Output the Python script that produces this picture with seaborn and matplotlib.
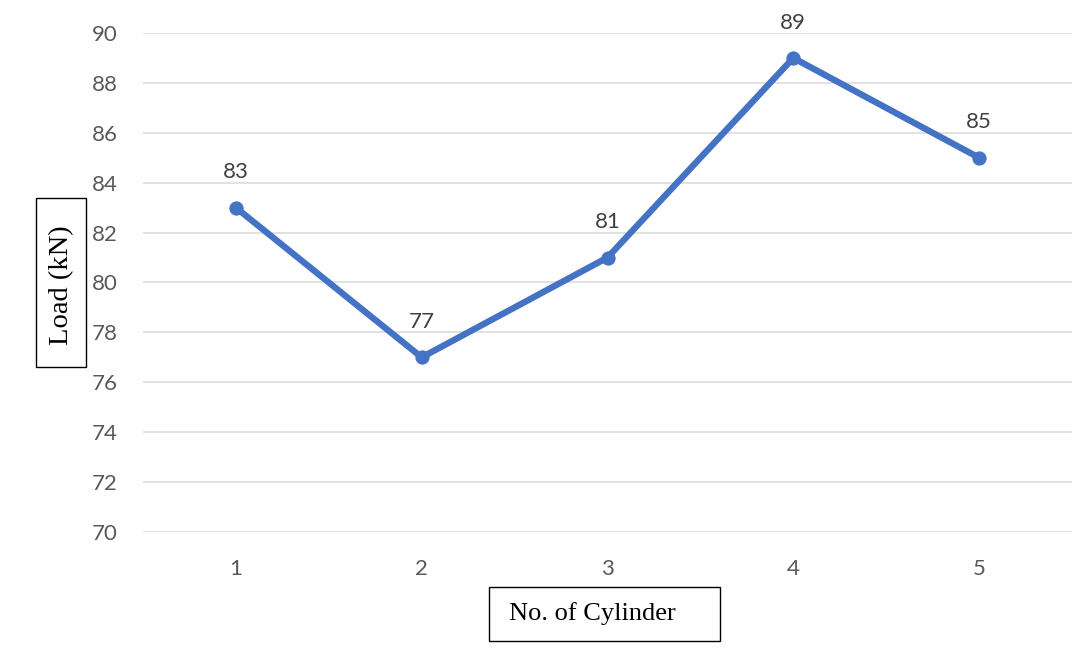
import matplotlib
matplotlib.use("Agg")
import matplotlib.pyplot as plt
from matplotlib.patches import Rectangle
import seaborn as sns
import pandas as pd

# Data
cylinders = [1, 2, 3, 4, 5]
loads = [83, 77, 81, 89, 85]
y_ticks = [70, 72, 74, 76, 78, 80, 82, 84, 86, 88, 90]

sns.set_theme(style="white")
plt.rcParams["font.family"] = ["Lato", "DejaVu Sans"]

W, H = 1087, 661
fig = plt.figure(figsize=(W / 100, H / 100), dpi=100)
ax = fig.add_axes([143 / W, 1 - 532 / H, (1072 - 143) / W, (532 - 33) / H])

df = pd.DataFrame({"cyl": cylinders, "load": loads})
line_color = "#4472C4"
sns.lineplot(data=df, x="cyl", y="load", ax=ax, color=line_color,
             linewidth=4.6, marker="o", markersize=9.5,
             markeredgecolor=line_color, markerfacecolor=line_color)

for x, y in zip(cylinders, loads):
    ax.annotate(f"{y}", (x, y), xytext=(0, 25.5), textcoords="offset points",
                ha="center", va="center", fontsize=16, color="#404040")

ax.set_xlim(0.5, 5.5)
ax.set_ylim(70, 90)
ax.set_xticks(cylinders)
ax.set_xticklabels([str(c) for c in cylinders])
ax.set_yticks(y_ticks)
ax.set_yticklabels([str(t) for t in y_ticks])
ax.yaxis.grid(True, color="#D9D9D9", linewidth=1.1)
ax.xaxis.grid(False)
ax.set_axisbelow(True)
for s in ax.spines.values():
    s.set_visible(False)
ax.tick_params(axis="y", length=0, pad=18, labelsize=16, labelcolor="#595959")
ax.tick_params(axis="x", length=0, pad=19.5, labelsize=16, labelcolor="#595959")
ax.set_xlabel("")
ax.set_ylabel("")

# Boxed axis titles
def px_rect(x0, y0, x1, y1):
    return Rectangle((x0 / W, 1 - y1 / H), (x1 - x0) / W, (y1 - y0) / H,
                     transform=fig.transFigure, fill=False,
                     edgecolor="black", linewidth=1.0)

fig.patches.append(px_rect(36, 198, 86, 367))
fig.text(62 / W, 1 - 285 / H, "Load (kN)", rotation=90, ha="center", va="center",
         fontsize=20.5, family=["Liberation Serif"], color="black")

fig.patches.append(px_rect(489, 587, 720, 641))
fig.text(509 / W, 1 - 614 / H, "No. of Cylinder", ha="left", va="center",
         fontsize=19, family=["Liberation Serif"], color="black")

fig.savefig("out.png", dpi=100)
